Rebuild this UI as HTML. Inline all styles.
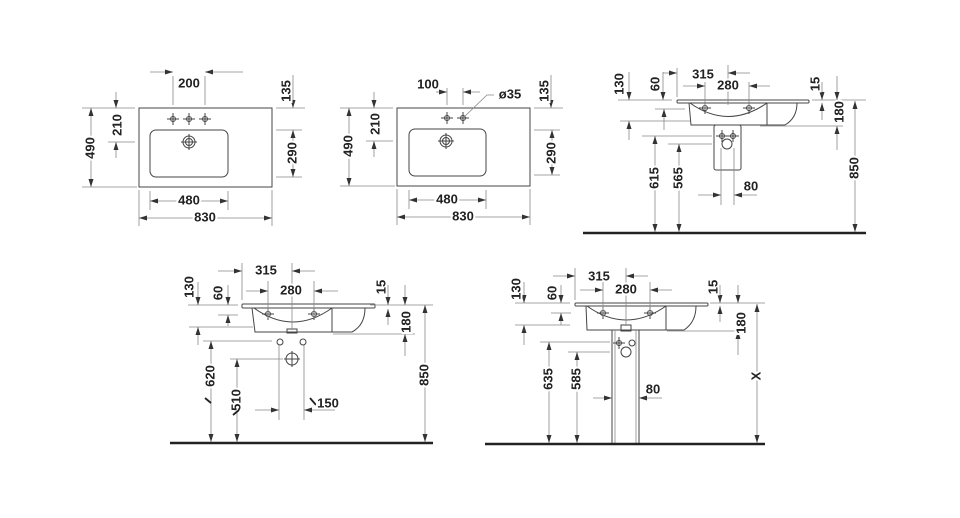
<!DOCTYPE html>
<html><head><meta charset="utf-8"><style>
html,body{margin:0;padding:0;background:#fff;}
svg{display:block;}
.t{font-family:"Liberation Sans",sans-serif;font-weight:bold;font-size:13px;fill:#222;text-anchor:middle;dominant-baseline:middle;stroke:#fff;stroke-width:4px;paint-order:stroke;}
.d{stroke:#888;stroke-width:0.8;fill:none;}
.o{stroke:#444;stroke-width:1;fill:none;}
</style></head><body>
<svg width="960" height="518" viewBox="0 0 960 518" xmlns="http://www.w3.org/2000/svg">
<defs>
<marker id="a" markerWidth="8" markerHeight="6" refX="8" refY="3" orient="auto-start-reverse" markerUnits="userSpaceOnUse"><path d="M0,0.5 L8,3 L0,5.5z" fill="#333"/></marker>
<g id="tap"><circle r="2.5" class="o"/><line x1="-6" y1="0" x2="6" y2="0" class="o"/><line x1="0" y1="-6" x2="0" y2="6" class="o"/></g>
</defs>

<!-- ===== TOP LEFT ===== -->
<rect x="139" y="108" width="133" height="79" class="o"/>
<rect x="150" y="130" width="78" height="47" rx="6" class="o"/>
<use href="#tap" x="173" y="119"/><use href="#tap" x="189" y="119"/><use href="#tap" x="205" y="119"/>
<circle cx="189" cy="142" r="6" class="o"/><circle cx="189" cy="142" r="3.5" class="o"/>
<line x1="181" y1="142" x2="197" y2="142" class="o"/><line x1="189" y1="134" x2="189" y2="150" class="o"/>
<line x1="173" y1="76" x2="173" y2="105" class="d"/><line x1="205" y1="76" x2="205" y2="105" class="d"/>
<line x1="150" y1="72" x2="173" y2="72" class="d" marker-end="url(#a)"/><line x1="243" y1="72" x2="205" y2="72" class="d" marker-end="url(#a)"/>
<text class="t" x="189" y="84">200</text>
<line x1="276" y1="108" x2="305" y2="108" class="d"/>
<line x1="293" y1="75" x2="293" y2="108" class="d" marker-end="url(#a)"/>
<text class="t" transform="translate(287,91) rotate(-90)">135</text>
<line x1="276" y1="130" x2="302" y2="130" class="d"/><line x1="276" y1="177" x2="302" y2="177" class="d"/>
<line x1="293" y1="130" x2="293" y2="177" class="d" marker-start="url(#a)" marker-end="url(#a)"/>
<text class="t" transform="translate(293,153) rotate(-90)">290</text>
<line x1="82" y1="108" x2="135" y2="108" class="d"/><line x1="82" y1="187" x2="137" y2="187" class="d"/>
<line x1="91" y1="108" x2="91" y2="187" class="d" marker-start="url(#a)" marker-end="url(#a)"/>
<text class="t" transform="translate(91,148) rotate(-90)">490</text>
<line x1="116" y1="92" x2="116" y2="108" class="d" marker-end="url(#a)"/>
<line x1="116" y1="158" x2="116" y2="142" class="d" marker-end="url(#a)"/>
<line x1="108" y1="142" x2="135" y2="142" class="d"/>
<text class="t" transform="translate(118,125) rotate(-90)">210</text>
<line x1="150" y1="191" x2="150" y2="210" class="d"/><line x1="228" y1="191" x2="228" y2="210" class="d"/>
<line x1="150" y1="201" x2="228" y2="201" class="d" marker-start="url(#a)" marker-end="url(#a)"/>
<text class="t" x="189" y="201">480</text>
<line x1="139" y1="190" x2="139" y2="226" class="d"/><line x1="272" y1="190" x2="272" y2="226" class="d"/>
<line x1="139" y1="218" x2="272" y2="218" class="d" marker-start="url(#a)" marker-end="url(#a)"/>
<text class="t" x="205" y="218">830</text>

<!-- ===== TOP MIDDLE ===== -->
<rect x="397" y="108" width="133" height="78" class="o"/>
<rect x="409" y="129" width="77" height="47" rx="6" class="o"/>
<use href="#tap" x="447" y="118"/><use href="#tap" x="463" y="118"/>
<circle cx="446" cy="141" r="6" class="o"/><circle cx="446" cy="141" r="3.5" class="o"/>
<line x1="438" y1="141" x2="454" y2="141" class="o"/><line x1="446" y1="133" x2="446" y2="149" class="o"/>
<line x1="447" y1="88" x2="447" y2="105" class="d"/><line x1="463" y1="88" x2="463" y2="105" class="d"/>
<line x1="436" y1="92" x2="447" y2="92" class="d" marker-end="url(#a)"/><line x1="480" y1="92" x2="463" y2="92" class="d" marker-end="url(#a)"/>
<text class="t" x="428" y="85">100</text>
<polyline points="463,118 487,95 494,95" class="d"/>
<text class="t" x="510" y="95">ø35</text>
<line x1="534" y1="108" x2="563" y2="108" class="d"/>
<line x1="551" y1="75" x2="551" y2="108" class="d" marker-end="url(#a)"/>
<text class="t" transform="translate(545,91) rotate(-90)">135</text>
<line x1="534" y1="130" x2="560" y2="130" class="d"/><line x1="534" y1="175" x2="560" y2="175" class="d"/>
<line x1="552" y1="130" x2="552" y2="175" class="d" marker-start="url(#a)" marker-end="url(#a)"/>
<text class="t" transform="translate(552,153) rotate(-90)">290</text>
<line x1="340" y1="108" x2="393" y2="108" class="d"/><line x1="340" y1="186" x2="395" y2="186" class="d"/>
<line x1="349" y1="108" x2="349" y2="186" class="d" marker-start="url(#a)" marker-end="url(#a)"/>
<text class="t" transform="translate(349,146) rotate(-90)">490</text>
<line x1="374" y1="92" x2="374" y2="108" class="d" marker-end="url(#a)"/>
<line x1="374" y1="157" x2="374" y2="141" class="d" marker-end="url(#a)"/>
<line x1="366" y1="141" x2="393" y2="141" class="d"/>
<text class="t" transform="translate(376,124) rotate(-90)">210</text>
<line x1="409" y1="190" x2="409" y2="209" class="d"/><line x1="486" y1="190" x2="486" y2="209" class="d"/>
<line x1="409" y1="200" x2="486" y2="200" class="d" marker-start="url(#a)" marker-end="url(#a)"/>
<text class="t" x="447" y="200">480</text>
<line x1="397" y1="189" x2="397" y2="225" class="d"/><line x1="530" y1="189" x2="530" y2="225" class="d"/>
<line x1="397" y1="217" x2="530" y2="217" class="d" marker-start="url(#a)" marker-end="url(#a)"/>
<text class="t" x="463" y="217">830</text>

<!-- ===== TOP RIGHT ===== -->
<rect x="677" y="100" width="132" height="3" rx="1" class="o"/>
<path d="M689,103 L691,125 L785,125 Q797,118 797,103" class="o"/>
<line x1="767" y1="103" x2="767" y2="125" class="o"/>
<path d="M690,103 Q728,130 767,103" class="o" stroke-width="0.7"/>
<use href="#tap" x="705" y="108"/><use href="#tap" x="749" y="108"/>
<rect x="714" y="125" width="27" height="45" rx="2" class="o"/>
<use href="#tap" x="722" y="136"/><use href="#tap" x="733" y="136"/>
<circle cx="727" cy="144" r="5" class="o"/>
<line x1="583" y1="233" x2="866" y2="233" stroke="#222" stroke-width="2.5"/>
<line x1="618" y1="100" x2="672" y2="100" class="d"/>
<line x1="629" y1="72" x2="629" y2="100" class="d" marker-end="url(#a)"/>
<text class="t" transform="translate(620,84) rotate(-90)">130</text>
<line x1="620" y1="121" x2="690" y2="121" class="d"/>
<line x1="629" y1="140" x2="629" y2="121" class="d" marker-end="url(#a)"/>
<line x1="663" y1="72" x2="663" y2="100" class="d" marker-end="url(#a)"/>
<text class="t" transform="translate(656,84) rotate(-90)">60</text>
<line x1="655" y1="109" x2="685" y2="109" class="d"/>
<line x1="664" y1="130" x2="664" y2="109" class="d" marker-end="url(#a)"/>
<line x1="677" y1="68" x2="677" y2="97" class="d"/><line x1="728" y1="65" x2="728" y2="105" class="d"/>
<line x1="663" y1="73" x2="677" y2="73" class="d" marker-end="url(#a)"/><line x1="750" y1="73" x2="728" y2="73" class="d" marker-end="url(#a)"/>
<text class="t" x="703" y="75">315</text>
<line x1="705" y1="82" x2="705" y2="110" class="d"/><line x1="749" y1="82" x2="749" y2="110" class="d"/>
<line x1="683" y1="86" x2="705" y2="86" class="d" marker-end="url(#a)"/><line x1="770" y1="86" x2="749" y2="86" class="d" marker-end="url(#a)"/>
<text class="t" x="728" y="86">280</text>
<line x1="812" y1="100" x2="866" y2="100" class="d"/>
<line x1="822" y1="82" x2="822" y2="100" class="d" marker-end="url(#a)"/>
<line x1="822" y1="120" x2="822" y2="103" class="d" marker-end="url(#a)"/>
<text class="t" transform="translate(816,84) rotate(-90)">15</text>
<line x1="837" y1="76" x2="837" y2="100" class="d" marker-end="url(#a)"/>
<line x1="837" y1="150" x2="837" y2="126" class="d" marker-end="url(#a)"/>
<line x1="760" y1="126" x2="843" y2="126" class="d"/>
<text class="t" transform="translate(840,112) rotate(-90)">180</text>
<line x1="855" y1="101" x2="855" y2="232" class="d" marker-start="url(#a)" marker-end="url(#a)"/>
<text class="t" transform="translate(855,168) rotate(-90)">850</text>
<line x1="642" y1="136" x2="712" y2="136" class="d"/>
<line x1="655" y1="136" x2="655" y2="232" class="d" marker-start="url(#a)" marker-end="url(#a)"/>
<text class="t" transform="translate(655,178) rotate(-90)">615</text>
<line x1="668" y1="144" x2="712" y2="144" class="d"/>
<line x1="679" y1="144" x2="679" y2="232" class="d" marker-start="url(#a)" marker-end="url(#a)"/>
<text class="t" transform="translate(679,178) rotate(-90)">565</text>
<line x1="721" y1="148" x2="721" y2="205" class="d"/><line x1="734" y1="148" x2="734" y2="205" class="d"/>
<line x1="698" y1="195" x2="721" y2="195" class="d" marker-end="url(#a)"/><line x1="757" y1="195" x2="734" y2="195" class="d" marker-end="url(#a)"/>
<text class="t" x="751" y="187">80</text>

<!-- ===== BOTTOM LEFT ===== -->
<rect x="242" y="304" width="133" height="4" rx="1" class="o"/>
<path d="M252,308 L255,332 L352,332 Q365,325 365,308" class="o"/>
<line x1="332" y1="308" x2="332" y2="332" class="o"/>
<path d="M254,308 Q293,336 332,308" class="o" stroke-width="0.7"/>
<use href="#tap" x="268" y="314"/><use href="#tap" x="314" y="314"/>
<rect x="287" y="329" width="10" height="4" class="o"/>
<circle cx="280" cy="342" r="3" class="o"/><circle cx="303" cy="342" r="3" class="o"/>
<circle cx="292" cy="359" r="6" class="o"/>
<line x1="284" y1="359" x2="300" y2="359" class="o"/><line x1="292" y1="351" x2="292" y2="367" class="o"/>
<line x1="170" y1="443" x2="433" y2="443" stroke="#222" stroke-width="2.5"/>
<line x1="242" y1="263" x2="242" y2="300" class="d"/><line x1="292" y1="263" x2="292" y2="330" class="d"/>
<line x1="218" y1="271" x2="242" y2="271" class="d" marker-end="url(#a)"/><line x1="315" y1="271" x2="292" y2="271" class="d" marker-end="url(#a)"/>
<text class="t" x="266" y="271">315</text>
<line x1="268" y1="281" x2="268" y2="318" class="d"/><line x1="314" y1="281" x2="314" y2="318" class="d"/>
<line x1="246" y1="291" x2="268" y2="291" class="d" marker-end="url(#a)"/><line x1="338" y1="291" x2="314" y2="291" class="d" marker-end="url(#a)"/>
<text class="t" x="291" y="291">280</text>
<line x1="188" y1="305" x2="238" y2="305" class="d"/>
<line x1="198" y1="282" x2="198" y2="305" class="d" marker-end="url(#a)"/>
<text class="t" transform="translate(190,287) rotate(-90)">130</text>
<line x1="189" y1="327" x2="253" y2="327" class="d"/>
<line x1="198" y1="345" x2="198" y2="327" class="d" marker-end="url(#a)"/>
<line x1="228" y1="285" x2="228" y2="305" class="d" marker-end="url(#a)"/>
<text class="t" transform="translate(219,293) rotate(-90)">60</text>
<line x1="218" y1="315" x2="238" y2="315" class="d"/>
<line x1="228" y1="326" x2="228" y2="315" class="d" marker-end="url(#a)"/>
<line x1="370" y1="305" x2="433" y2="305" class="d"/>
<line x1="388" y1="285" x2="388" y2="305" class="d" marker-end="url(#a)"/>
<line x1="388" y1="325" x2="388" y2="309" class="d" marker-end="url(#a)"/>
<text class="t" transform="translate(382,287) rotate(-90)">15</text>
<line x1="405" y1="285" x2="405" y2="305" class="d" marker-end="url(#a)"/>
<line x1="405" y1="356" x2="405" y2="334" class="d" marker-end="url(#a)"/>
<line x1="333" y1="334" x2="415" y2="334" class="d"/>
<text class="t" transform="translate(407,322) rotate(-90)">180</text>
<line x1="425" y1="305" x2="425" y2="442" class="d" marker-start="url(#a)" marker-end="url(#a)"/>
<text class="t" transform="translate(425,375) rotate(-90)">850</text>
<line x1="203" y1="341" x2="272" y2="341" class="d"/>
<line x1="211" y1="341" x2="211" y2="442" class="d" marker-start="url(#a)" marker-end="url(#a)"/>
<text class="t" transform="translate(211,376) rotate(-90)">620</text>
<line x1="205" y1="398" x2="211" y2="403" stroke="#222" stroke-width="1.8"/>
<line x1="230" y1="359" x2="283" y2="359" class="d"/>
<line x1="237" y1="359" x2="237" y2="442" class="d" marker-start="url(#a)" marker-end="url(#a)"/>
<text class="t" transform="translate(237,400) rotate(-90)">510</text>
<line x1="233" y1="415" x2="239" y2="410" stroke="#222" stroke-width="1.8"/>
<line x1="279" y1="345" x2="279" y2="420" class="d"/><line x1="304" y1="345" x2="304" y2="420" class="d"/>
<line x1="255" y1="410" x2="279" y2="410" class="d" marker-end="url(#a)"/><line x1="335" y1="410" x2="304" y2="410" class="d" marker-end="url(#a)"/>
<line x1="310" y1="398" x2="316" y2="405" stroke="#222" stroke-width="1.8"/>
<text class="t" x="328" y="404">150</text>

<!-- ===== BOTTOM RIGHT ===== -->
<rect x="575" y="303" width="133" height="3" rx="1" class="o"/>
<path d="M586,306 L587,330 L684,330 Q696,322 696,306" class="o"/>
<line x1="666" y1="306" x2="666" y2="330" class="o"/>
<path d="M587,306 Q626,334 666,306" class="o" stroke-width="0.7"/>
<use href="#tap" x="603" y="313"/><use href="#tap" x="650" y="313"/>
<rect x="621" y="325" width="10" height="6" class="o"/>
<line x1="612" y1="330" x2="612" y2="443" class="o"/><line x1="615" y1="330" x2="615" y2="443" class="d"/>
<line x1="639" y1="330" x2="639" y2="443" class="o"/><line x1="636" y1="330" x2="636" y2="443" class="d"/>
<use href="#tap" x="619" y="343"/><circle cx="632" cy="343" r="3" class="o"/>
<circle cx="626" cy="352" r="5" class="o"/>
<line x1="485" y1="444" x2="765" y2="444" stroke="#222" stroke-width="2.5"/>
<line x1="575" y1="268" x2="575" y2="300" class="d"/><line x1="626" y1="268" x2="626" y2="326" class="d"/>
<line x1="553" y1="276" x2="575" y2="276" class="d" marker-end="url(#a)"/><line x1="648" y1="276" x2="626" y2="276" class="d" marker-end="url(#a)"/>
<text class="t" x="599" y="277">315</text>
<line x1="603" y1="282" x2="603" y2="316" class="d"/><line x1="650" y1="282" x2="650" y2="316" class="d"/>
<line x1="580" y1="290" x2="603" y2="290" class="d" marker-end="url(#a)"/><line x1="672" y1="290" x2="650" y2="290" class="d" marker-end="url(#a)"/>
<text class="t" x="626" y="290">280</text>
<line x1="515" y1="303" x2="570" y2="303" class="d"/>
<line x1="524" y1="282" x2="524" y2="303" class="d" marker-end="url(#a)"/>
<text class="t" transform="translate(517,289) rotate(-90)">130</text>
<line x1="515" y1="325" x2="570" y2="325" class="d"/>
<line x1="524" y1="345" x2="524" y2="325" class="d" marker-end="url(#a)"/>
<line x1="561" y1="285" x2="561" y2="303" class="d" marker-end="url(#a)"/>
<text class="t" transform="translate(553,293) rotate(-90)">60</text>
<line x1="551" y1="313" x2="571" y2="313" class="d"/>
<line x1="561" y1="325" x2="561" y2="313" class="d" marker-end="url(#a)"/>
<line x1="710" y1="303" x2="765" y2="303" class="d"/>
<line x1="720" y1="285" x2="720" y2="303" class="d" marker-end="url(#a)"/>
<line x1="720" y1="322" x2="720" y2="306" class="d" marker-end="url(#a)"/>
<text class="t" transform="translate(714,287) rotate(-90)">15</text>
<line x1="738" y1="285" x2="738" y2="303" class="d" marker-end="url(#a)"/>
<line x1="738" y1="355" x2="738" y2="331" class="d" marker-end="url(#a)"/>
<line x1="667" y1="331" x2="745" y2="331" class="d"/>
<text class="t" transform="translate(742,323) rotate(-90)">180</text>
<line x1="757" y1="304" x2="757" y2="443" class="d" marker-start="url(#a)" marker-end="url(#a)"/>
<text class="t" transform="translate(757,376) rotate(-90)">X</text>
<line x1="540" y1="342" x2="610" y2="342" class="d"/>
<line x1="549" y1="342" x2="549" y2="443" class="d" marker-start="url(#a)" marker-end="url(#a)"/>
<text class="t" transform="translate(549,379) rotate(-90)">635</text>
<line x1="568" y1="352" x2="610" y2="352" class="d"/>
<line x1="577" y1="352" x2="577" y2="443" class="d" marker-start="url(#a)" marker-end="url(#a)"/>
<text class="t" transform="translate(577,379) rotate(-90)">585</text>
<line x1="593" y1="398" x2="612" y2="398" class="d" marker-end="url(#a)"/><line x1="662" y1="398" x2="639" y2="398" class="d" marker-end="url(#a)"/>
<text class="t" x="653" y="390">80</text>
</svg>
</body></html>
